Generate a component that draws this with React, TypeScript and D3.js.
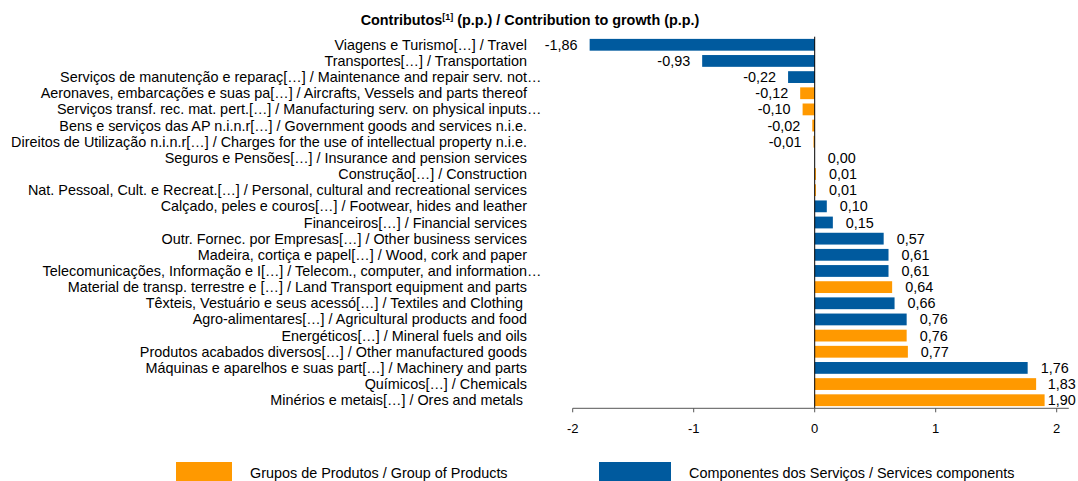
import React from "react";
import * as d3 from "d3";

// categories top to bottom, as in the source chart
const categories = [
  "Viagens e Turismo[…] / Travel",
  "Transportes[…] / Transportation",
  "Serviços de manutenção e reparaç[…] / Maintenance and repair serv. not…",
  "Aeronaves, embarcações e suas pa[…] / Aircrafts, Vessels and parts thereof",
  "Serviços transf. rec. mat. pert.[…] / Manufacturing serv. on physical inputs…",
  "Bens e serviços das AP n.i.n.r[…] / Government goods and services n.i.e.",
  "Direitos de Utilização n.i.n.r[…] / Charges for the use of intellectual property n.i.e.",
  "Seguros e Pensões[…] / Insurance and pension services",
  "Construção[…] / Construction",
  "Nat. Pessoal, Cult. e Recreat.[…] / Personal, cultural and recreational services",
  "Calçado, peles e couros[…] / Footwear, hides and leather",
  "Financeiros[…] / Financial services",
  "Outr. Fornec. por Empresas[…] / Other business services",
  "Madeira, cortiça e papel[…] / Wood, cork and paper",
  "Telecomunicações, Informação e I[…] / Telecom., computer, and information…",
  "Material de transp. terrestre e […] / Land Transport equipment and parts",
  "Têxteis, Vestuário e seus acessó[…] / Textiles and Clothing ",
  "Agro-alimentares[…] / Agricultural products and food",
  "Energéticos[…] / Mineral fuels and oils",
  "Produtos acabados diversos[…] / Other manufactured goods",
  "Máquinas e aparelhos e suas part[…] / Machinery and parts",
  "Químicos[…] / Chemicals",
  "Minérios e metais[…] / Ores and metals ",
];

const values = [
  -1.86, -0.93, -0.22, -0.12, -0.1, -0.02, -0.01, 0.0, 0.01, 0.01, 0.1, 0.15,
  0.57, 0.61, 0.61, 0.64, 0.66, 0.76, 0.76, 0.77, 1.76, 1.83, 1.9,
];

// "p" = product group (orange), "s" = services component (blue)
const groups = [
  "s", "s", "s", "p", "p", "p", "p", "s", "p", "p", "s", "s",
  "s", "s", "s", "p", "s", "s", "p", "p", "s", "p", "p",
];

const xTicks = [-2, -1, 0, 1, 2];

const legendKeys = ["p", "s"];
const legendLabels = [
  "Grupos de Produtos / Group of Products",
  "Componentes dos Serviços / Services components",
];

const colors: Record<string, string> = { p: "#FF9900", s: "#005A9E" };

const font = "'Liberation Sans', Arial, sans-serif";

const fmt = (v: number) => d3.format(".2f")(v).replace(".", ",").replace("−", "-");

export default function App() {
  const width = 1078;
  const height = 481;
  const fs = 14.4;

  // horizontal value scale
  const x = d3.scaleLinear().domain([-2, 2.1]).range([572.7, 1068.8]);
  // one band per category
  const y = d3
    .scaleBand()
    .domain(categories)
    .range([36.7, 408.3])
    .paddingInner(0.27)
    .paddingOuter(0.135);

  const bottom = 408.3;
  const labelRight = 527;
  const valueMaxX = x(2.1) - 21;

  return (
    <svg
      width={width}
      height={height}
      style={{ position: "absolute", left: 0, top: 0, background: "#fff" }}
      fontFamily={font}
    >
      {/* title */}
      <text x={530} y={25} textAnchor="middle" fontSize={fs} fontWeight="bold" fill="#000">
        Contributos
        <tspan fontSize={9} dy={-5}>[1]</tspan>
        <tspan dy={5}> (p.p.) / Contribution to growth (p.p.)</tspan>
      </text>

      {/* bars */}
      {categories.map((c, i) => {
        const v = values[i];
        const x0 = x(Math.min(0, v));
        const w = Math.abs(x(v) - x(0));
        return (
          <rect
            key={c}
            x={x0}
            y={y(c)}
            width={w}
            height={y.bandwidth()}
            fill={colors[groups[i]]}
          />
        );
      })}

      {/* zero line */}
      <line x1={x(0)} x2={x(0)} y1={36.7} y2={bottom} stroke="#000" strokeWidth={1} />

      {/* bottom axis */}
      <line x1={x(-2)} x2={x(2.1)} y1={bottom} y2={bottom} stroke="#555" strokeWidth={1} />
      {xTicks.map((t) => (
        <g key={t}>
          <line x1={x(t)} x2={x(t)} y1={bottom} y2={bottom + 4} stroke="#555" />
          <text x={x(t)} y={433} textAnchor="middle" fontSize={13} fill="#000">
            {t}
          </text>
        </g>
      ))}

      {/* category labels */}
      {categories.map((c) => {
        const cy = (y(c) as number) + y.bandwidth() / 2 + 5;
        const hasEllipsis = c.endsWith("…");
        const main = hasEllipsis ? c.slice(0, -1) : c;
        return (
          <g key={c}>
            <text
              x={labelRight}
              y={cy}
              textAnchor="end"
              fontSize={fs}
              fill="#000"
              style={{ whiteSpace: "pre" }}
            >
              {main}
            </text>
            {hasEllipsis && (
              <text x={labelRight} y={cy} fontSize={fs} fill="#000">
                …
              </text>
            )}
          </g>
        );
      })}

      {/* value labels */}
      {categories.map((c, i) => {
        const v = values[i];
        const cy = (y(c) as number) + y.bandwidth() / 2 + 5;
        const neg = v < 0;
        const lx = neg ? x(v) - 12 : Math.min(x(v) + 13, valueMaxX);
        return (
          <text
            key={c}
            x={lx}
            y={cy}
            textAnchor={neg ? "end" : "start"}
            fontSize={fs}
            fill="#000"
          >
            {fmt(v)}
          </text>
        );
      })}

      {/* legend */}
      <rect x={176} y={462} width={56} height={19} fill={colors[legendKeys[0]]} />
      <text x={250} y={478} fontSize={fs} fill="#000">
        {legendLabels[0]}
      </text>
      <rect x={599} y={462} width={72} height={19} fill={colors[legendKeys[1]]} />
      <text x={689} y={478} fontSize={fs} fill="#000">
        {legendLabels[1]}
      </text>
    </svg>
  );
}
